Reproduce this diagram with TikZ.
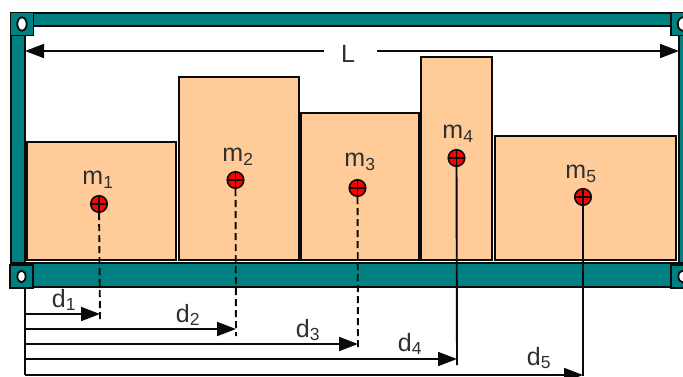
\documentclass[tikz,border=0pt]{standalone}
\usepackage{fontspec}
\setmainfont{Liberation Sans}
\usetikzlibrary{arrows.meta}
\definecolor{beam}{RGB}{0,128,128}
\definecolor{cargo}{RGB}{255,204,153}
\definecolor{ink}{RGB}{10,10,10}
\tikzset{
  beamfill/.style={draw=ink,line width=2pt,fill=beam},
  corner/.style={draw=ink,line width=1.8pt,fill=beam,minimum size=23pt,inner sep=0pt,outer sep=0pt},
  box/.style={draw=ink,line width=1.8pt,fill=cargo,inner sep=0pt,outer sep=0pt,anchor=north west},
  cg/.style={circle,draw=ink,line width=1.6pt,fill=red,minimum size=16.5pt,inner sep=0pt,
    path picture={\draw[ink,line width=1.5pt] (path picture bounding box.north)--(path picture bounding box.south)
      (path picture bounding box.west)--(path picture bounding box.east);}},
  lab/.style={inner sep=0pt,font=\fontsize{25}{25}\selectfont,text=ink!85!white},
  dim/.style={draw=ink,line width=1.9pt,-{Triangle[length=19pt,width=14pt]},shorten >=0pt},
  ref/.style={draw=ink,line width=1.9pt},
  refd/.style={draw=ink,line width=1.9pt,dash pattern=on 7pt off 4pt}
}
\begin{document}
\begin{tikzpicture}[x=1pt,y=-1pt]
\useasboundingbox (0,0) rectangle (683,376);
\clip (0,0) rectangle (683,376);
% frame
\path[beamfill] (11,13) rectangle (690,26);
\path[beamfill] (11,26) rectangle (25,265);
\path[beamfill] (679,26) rectangle (690,265);
\path[beamfill] (11,263) rectangle (690,287);
% cargo
\node[box,minimum width=149pt,minimum height=118pt] (b1) at (27,142) {};
\node[box,minimum width=120pt,minimum height=183pt] (b2) at (179,77) {};
\node[box,minimum width=118pt,minimum height=147pt] (b3) at (301,113) {};
\node[box,minimum width=71pt,minimum height=203pt] (b4) at (421,57) {};
\node[box,minimum width=181pt,minimum height=124pt] (b5) at (495,136) {};
% corners
\node[corner] (c1) at (22,24) {};
\node[corner] (c2) at (21.5,276.5) {};
\node[corner] (c3) at (682.5,24) {};
\node[corner] (c4) at (682.5,276.5) {};
\draw[ink,line width=1.8pt,fill=white] (c1) ellipse (4.7pt and 6.6pt);
\draw[ink,line width=1.8pt,fill=white] (c2) ellipse (4.1pt and 5.8pt);
\draw[ink,line width=1.8pt,fill=white] (c3) ellipse (4.7pt and 6.6pt);
\draw[ink,line width=1.8pt,fill=white] (c4) ellipse (4.1pt and 5.8pt);
% span
\coordinate (La) at (25,51);
\coordinate (Lb) at (679,51);
\node[lab] (L) at (348,54) {L};
\path[dim] (L.west)+(-17,-3) -- (La);
\path[dim] (L.east)+(22,-3) -- (Lb);
% centres
\node[cg] (g1) at (99,204) {};
\node[cg] (g2) at (235.5,180) {};
\node[cg] (g3) at (357.5,188) {};
\node[cg] (g4) at (456.5,158) {};
\node[cg] (g5) at (583,197) {};
\node[lab] at (98,180) {m\textsubscript{1}};
\node[lab] at (238,157) {m\textsubscript{2}};
\node[lab] at (360,162) {m\textsubscript{3}};
\node[lab] at (458,134) {m\textsubscript{4}};
\node[lab] at (581,174) {m\textsubscript{5}};
% dimensions
\coordinate (o) at (25,288);
\coordinate (o1) at (25,314);
\coordinate (o2) at (25,329);
\coordinate (o3) at (25,344);
\coordinate (o4) at (25,359);
\coordinate (o5) at (25,375);
\coordinate (e1) at (100,319);
\coordinate (e2) at (236,336);
\coordinate (e3) at (358,350);
\coordinate (e4) at (457,365);
\coordinate (e5) at (583,376);
\path[ref] (o) -- (o5);
\path[refd] (g1) -- (e1);
\path[refd] (g2) -- (e2);
\path[refd] (g3) -- (e3);
\path[ref] (g4) -- (e4);
\path[ref] (g5) -- (e5);
\path[dim] (o1) -- (o1-|e1);
\path[dim] (o2) -- (o2-|e2);
\path[dim] (o3) -- (o3-|e3);
\path[dim] (o4) -- (o4-|e4);
\path[dim] (o5) -- (o5-|e5);
\node[lab] at (64,300) {d\textsubscript{1}};
\node[lab] at (188,315) {d\textsubscript{2}};
\node[lab] at (308,330) {d\textsubscript{3}};
\node[lab] at (410,344) {d\textsubscript{4}};
\node[lab] at (539,358) {d\textsubscript{5}};
\end{tikzpicture}
\end{document}
